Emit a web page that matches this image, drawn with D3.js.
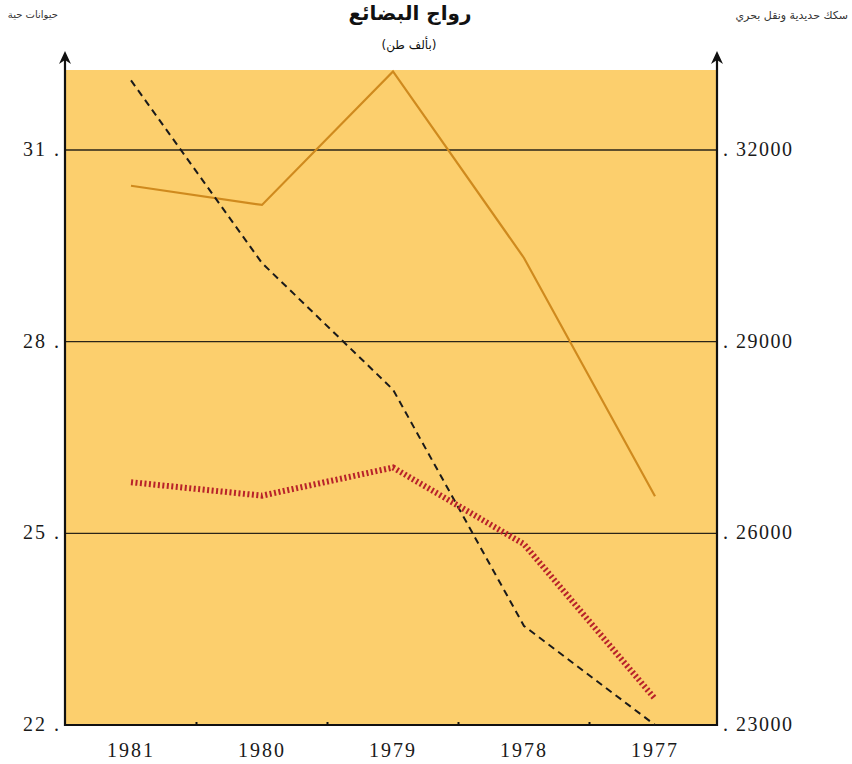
<!DOCTYPE html>
<html>
<head>
<meta charset="utf-8">
<script src="https://cdn.jsdelivr.net/npm/d3@7"></script>
<style>
  body { margin: 0; background: #fff; }
  svg { display: block; }
</style>
</head>
<body>
<script>
var width = 852;
var height = 764;

// data
var years = ['1981', '1980', '1979', '1978', '1977'];
var leftTicks = [22, 25, 28, 31];
var rightTicks = [23000, 26000, 29000, 32000];
var orangeSeries = [31440, 31140, 33230, 30310, 26580];   // right axis
var dashedSeries = [33090, 30230, 28250, 24550, 23000];   // right axis
var redSeries = [25.80, 25.59, 26.03, 24.83, 22.41];      // left axis

var plotLeft = 65, plotRight = 717, plotTop = 70, plotBottom = 725;

var x = d3.scalePoint().domain(years).range([131, 655]);
var yLeft = d3.scaleLinear().domain([22, 31]).range([plotBottom, 150]);
var yRight = d3.scaleLinear().domain([23000, 32000]).range([plotBottom, 150]);

var svg = d3.select('body').append('svg')
  .attr('width', width)
  .attr('height', height);

// background panel
svg.append('rect')
  .attr('x', plotLeft)
  .attr('y', plotTop)
  .attr('width', plotRight - plotLeft)
  .attr('height', plotBottom - plotTop)
  .attr('fill', '#fccf6d');

// gridlines
svg.selectAll('.grid')
  .data(leftTicks.slice(1))
  .enter().append('line')
  .attr('x1', plotLeft).attr('x2', plotRight)
  .attr('y1', function(d) { return yLeft(d); })
  .attr('y2', function(d) { return yLeft(d); })
  .attr('stroke', '#2a2418')
  .attr('stroke-width', 1.3);

// bottom axis line with small ticks between years
svg.append('line')
  .attr('x1', plotLeft - 1).attr('x2', plotRight + 1)
  .attr('y1', plotBottom).attr('y2', plotBottom)
  .attr('stroke', '#111').attr('stroke-width', 2);

var step = x.step();
svg.selectAll('.xtick')
  .data(years.slice(0, -1))
  .enter().append('line')
  .attr('x1', function(d) { return x(d) + step / 2; })
  .attr('x2', function(d) { return x(d) + step / 2; })
  .attr('y1', plotBottom - 3).attr('y2', plotBottom)
  .attr('stroke', '#111').attr('stroke-width', 2);

// vertical axes with arrows
[plotLeft, plotRight].forEach(function(ax) {
  svg.append('line')
    .attr('x1', ax).attr('x2', ax)
    .attr('y1', plotBottom + 1).attr('y2', 56)
    .attr('stroke', '#111').attr('stroke-width', 2.2);
  svg.append('path')
    .attr('d', 'M' + (ax - 6) + ',64 L' + ax + ',51 L' + (ax + 6) + ',64 L' + ax + ',60 Z')
    .attr('fill', '#111');
});

// year labels
svg.selectAll('.year')
  .data(years)
  .enter().append('text')
  .attr('x', function(d) { return x(d); })
  .attr('y', 757)
  .attr('text-anchor', 'middle')
  .attr('font-family', 'Liberation Serif, DejaVu Serif, serif')
  .attr('font-size', 20)
  .attr('letter-spacing', 2)
  .attr('fill', '#1a1a1a')
  .text(function(d) { return d; });

// left tick labels
svg.selectAll('.lt')
  .data(leftTicks)
  .enter().append('text')
  .attr('x', 61)
  .attr('y', function(d) { return yLeft(d) + 6; })
  .attr('text-anchor', 'end')
  .attr('font-family', 'Liberation Serif, DejaVu Serif, serif')
  .attr('font-size', 20)
  .attr('letter-spacing', 2)
  .attr('fill', '#1a1a1a')
  .text(function(d) { return d + ' .'; });

// right tick labels
svg.selectAll('.rt')
  .data(rightTicks)
  .enter().append('text')
  .attr('x', 723)
  .attr('y', function(d) { return yRight(d) + 6; })
  .attr('font-family', 'Liberation Serif, DejaVu Serif, serif')
  .attr('font-size', 20)
  .attr('letter-spacing', 1.5)
  .attr('fill', '#1a1a1a')
  .text(function(d) { return '. ' + d; });

// lines
var lineRight = d3.line()
  .x(function(d, i) { return x(years[i]); })
  .y(function(d) { return yRight(d); });
var lineLeft = d3.line()
  .x(function(d, i) { return x(years[i]); })
  .y(function(d) { return yLeft(d); });

svg.append('path')
  .attr('d', lineRight(orangeSeries))
  .attr('fill', 'none')
  .attr('stroke', '#cf8a1e')
  .attr('stroke-width', 2.2);

svg.append('path')
  .attr('d', lineRight(dashedSeries))
  .attr('fill', 'none')
  .attr('stroke', '#1a1a1a')
  .attr('stroke-width', 2)
  .attr('stroke-dasharray', '7,5');

svg.append('path')
  .attr('d', lineLeft(redSeries))
  .attr('fill', 'none')
  .attr('stroke', '#b8222a')
  .attr('stroke-width', 6)
  .attr('stroke-dasharray', '2,2.5');

// titles
svg.append('text')
  .attr('x', 410).attr('y', 20)
  .attr('text-anchor', 'middle')
  .attr('font-family', 'DejaVu Sans, Noto Sans, sans-serif')
  .attr('font-weight', 'bold')
  .attr('font-size', 20)
  .attr('fill', '#111')
  .text('رواج البضائع');

svg.append('text')
  .attr('x', 409).attr('y', 49)
  .attr('text-anchor', 'middle')
  .attr('font-family', 'DejaVu Sans, Noto Sans, sans-serif')
  .attr('font-size', 12)
  .attr('fill', '#111')
  .text('(بألف طن)');

svg.append('text')
  .attr('x', 58).attr('y', 18)
  .attr('text-anchor', 'end')
  .attr('font-family', 'DejaVu Sans, Noto Sans, sans-serif')
  .attr('font-size', 10)
  .attr('fill', '#333')
  .text('حيوانات حية');

svg.append('text')
  .attr('x', 848).attr('y', 19)
  .attr('text-anchor', 'end')
  .attr('font-family', 'DejaVu Sans, Noto Sans, sans-serif')
  .attr('font-size', 11)
  .attr('fill', '#333')
  .text('سكك حديدية ونقل بحري');
</script>
</body>
</html>
